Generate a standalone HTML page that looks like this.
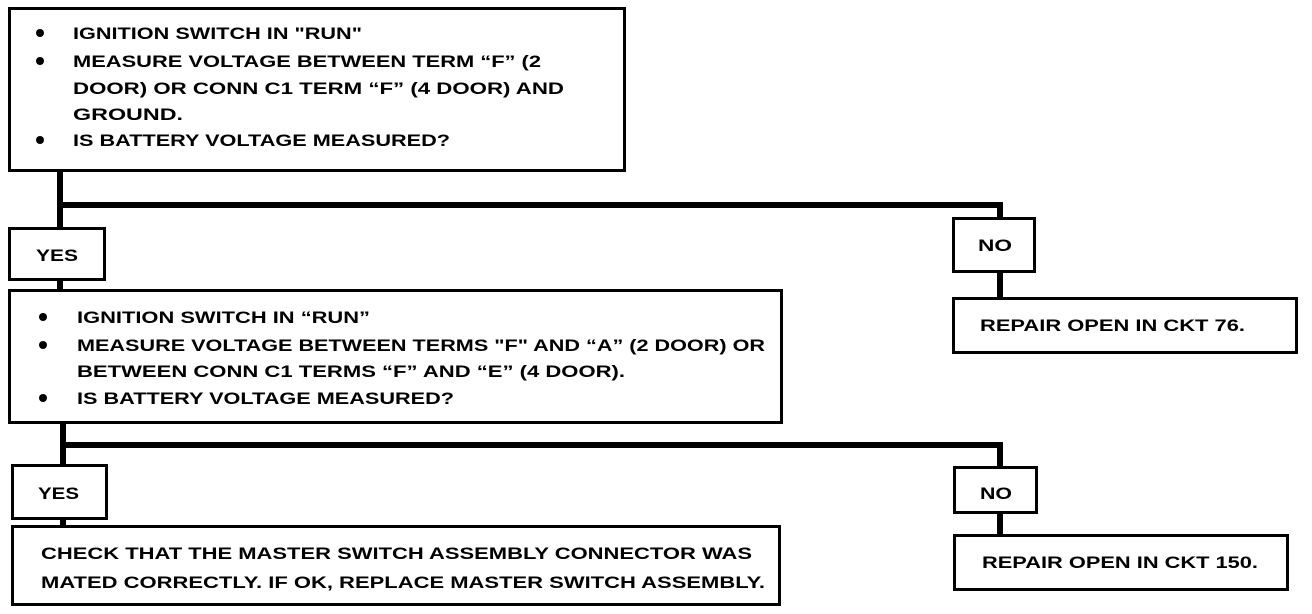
<!DOCTYPE html>
<html><head><meta charset="utf-8"><style>
html,body{margin:0;padding:0;background:#fff;}
svg{display:block;}
text{font-family:"Liberation Sans",Arial,sans-serif;font-weight:bold;font-size:17px;fill:#000;}
</style></head><body>
<svg width="1312" height="614" viewBox="0 0 1312 614" xmlns="http://www.w3.org/2000/svg">
<g fill="none" stroke="#000" stroke-width="3">
<rect x="9.5" y="8.5" width="615" height="162"/>
<rect x="9.5" y="228.5" width="95" height="51"/>
<rect x="9.5" y="290.5" width="772" height="132"/>
<rect x="12.5" y="465.5" width="94" height="53"/>
<rect x="12.5" y="526.5" width="767" height="78"/>
<rect x="953.5" y="218.5" width="81" height="53"/>
<rect x="953.5" y="298.5" width="343" height="54"/>
<rect x="954.5" y="467.5" width="82" height="45"/>
<rect x="954.5" y="535.5" width="333" height="54"/>
</g>
<g fill="#000">
<rect x="57" y="171" width="6" height="57"/>
<rect x="57" y="202" width="946" height="6"/>
<rect x="997" y="202" width="6" height="16"/>
<rect x="997" y="272" width="6" height="26"/>
<rect x="57" y="280" width="6" height="10"/>
<rect x="60" y="423" width="6" height="42"/>
<rect x="60" y="442" width="943" height="6"/>
<rect x="997" y="442" width="6" height="25"/>
<rect x="997" y="513" width="6" height="22"/>
<rect x="60" y="519" width="6" height="7"/>
<circle cx="40" cy="33" r="4"/><circle cx="40" cy="61" r="4"/><circle cx="40" cy="140" r="4"/>
<circle cx="43" cy="317" r="4"/><circle cx="43" cy="345" r="4"/><circle cx="43" cy="398" r="4"/>
</g>
<text x="73" y="39" textLength="289" lengthAdjust="spacingAndGlyphs">IGNITION SWITCH IN "RUN"</text>
<text x="73" y="67" textLength="468" lengthAdjust="spacingAndGlyphs">MEASURE VOLTAGE BETWEEN TERM “F” (2</text>
<text x="73" y="94" textLength="491" lengthAdjust="spacingAndGlyphs">DOOR) OR CONN C1 TERM “F” (4 DOOR) AND</text>
<text x="73" y="120" textLength="110" lengthAdjust="spacingAndGlyphs">GROUND.</text>
<text x="73" y="146" textLength="377" lengthAdjust="spacingAndGlyphs">IS BATTERY VOLTAGE MEASURED?</text>
<text x="36" y="261" textLength="42" lengthAdjust="spacingAndGlyphs">YES</text>
<text x="77" y="323" textLength="293" lengthAdjust="spacingAndGlyphs">IGNITION SWITCH IN “RUN”</text>
<text x="77" y="351" textLength="688" lengthAdjust="spacingAndGlyphs">MEASURE VOLTAGE BETWEEN TERMS "F" AND “A” (2 DOOR) OR</text>
<text x="77" y="377" textLength="548" lengthAdjust="spacingAndGlyphs">BETWEEN CONN C1 TERMS “F” AND “E” (4 DOOR).</text>
<text x="77" y="404" textLength="377" lengthAdjust="spacingAndGlyphs">IS BATTERY VOLTAGE MEASURED?</text>
<text x="38" y="499" textLength="41" lengthAdjust="spacingAndGlyphs">YES</text>
<text x="41" y="559" textLength="711" lengthAdjust="spacingAndGlyphs">CHECK THAT THE MASTER SWITCH ASSEMBLY CONNECTOR WAS</text>
<text x="41" y="588" textLength="724" lengthAdjust="spacingAndGlyphs">MATED CORRECTLY.  IF OK, REPLACE MASTER SWITCH ASSEMBLY.</text>
<text x="978" y="251" textLength="34" lengthAdjust="spacingAndGlyphs">NO</text>
<text x="980" y="331" textLength="265" lengthAdjust="spacingAndGlyphs">REPAIR OPEN IN CKT 76.</text>
<text x="980" y="499" textLength="32" lengthAdjust="spacingAndGlyphs">NO</text>
<text x="982" y="568" textLength="276" lengthAdjust="spacingAndGlyphs">REPAIR OPEN IN CKT 150.</text>
</svg>
</body></html>
